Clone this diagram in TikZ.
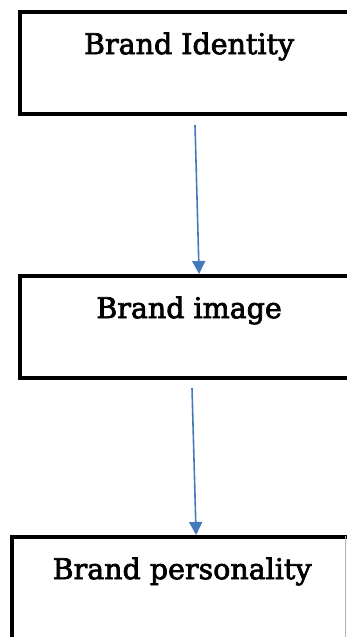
\documentclass[tikz,border=0pt]{standalone}
\usepackage{fontspec}
\setmainfont[FakeBold=2.5]{DejaVu Serif}
\usetikzlibrary{arrows.meta}
\definecolor{arrblue}{RGB}{70,120,190}
\begin{document}
\begin{tikzpicture}[x=1pt,y=1pt,
  brandbox/.style={draw=black, line width=4.2pt, fill=white, anchor=north west,
    inner xsep=0pt, inner ysep=0pt, text height=42pt, text depth=60pt,
    font=\fontsize{28.5}{32}\selectfont},
  arr/.style={draw=arrblue, line width=1.6pt, -{Triangle[length=13pt,width=13pt]}}]
\useasboundingbox (0,0) rectangle (347,-637);
\clip (0,0) rectangle (347,-637);
\node[brandbox, minimum width=338pt] (b1) at (18,-10) {Brand Identity};
\node[brandbox, minimum width=338pt] (b2) at (18,-274) {Brand image};
\node[brandbox, minimum width=340pt, text depth=80pt] (b3) at (10,-535) {Brand personality};
\draw[gray!60, line width=1pt] (345.5,-536) -- (345.5,-637);
\coordinate (s1) at (195,-125);
\coordinate (s2) at (192,-388);
\draw[arr] (s1) -- ([xshift=10pt]b2.north);
\draw[arr] (s2) -- ([xshift=14pt]b3.north);
\end{tikzpicture}
\end{document}
